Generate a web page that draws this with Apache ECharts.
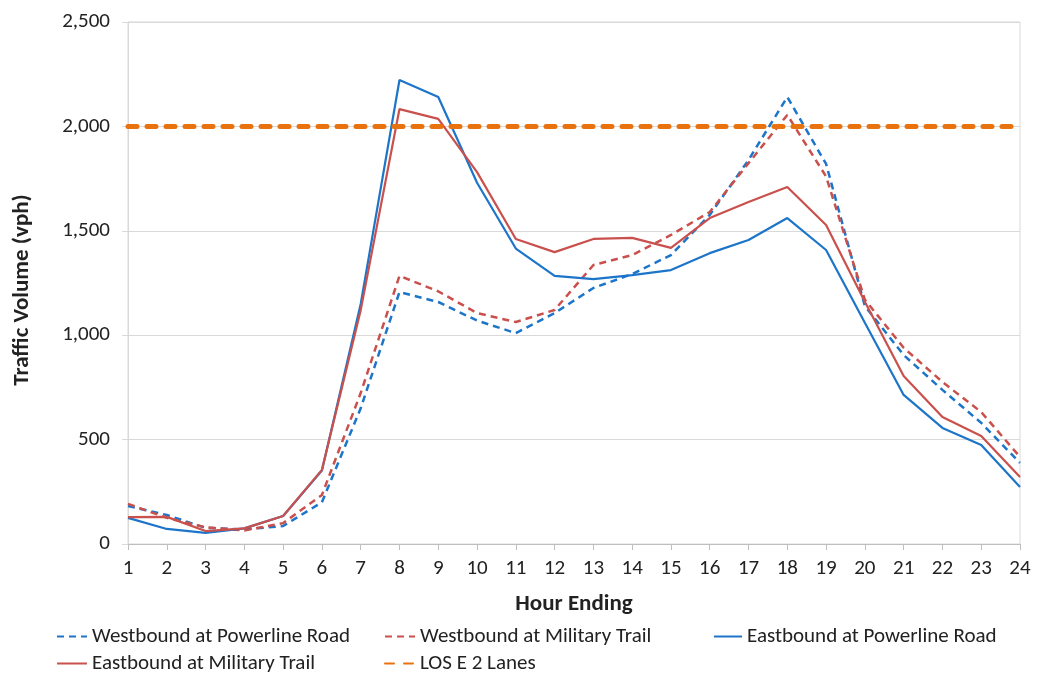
<!DOCTYPE html>
<html>
<head>
<meta charset="utf-8">
<script src="https://cdn.jsdelivr.net/npm/echarts@6/dist/echarts.min.js"></script>
<style>
html,body{margin:0;padding:0;background:#fff;}
#chart{width:1041px;height:673px;}
</style>
</head>
<body>
<div id="chart"></div>
<script>
const hours = ['1','2','3','4','5','6','7','8','9','10','11','12','13','14','15','16','17','18','19','20','21','22','23','24'];
const wbPowerline = [182, 139, 77, 70, 86, 200, 650, 1207, 1159, 1070, 1010, 1106, 1226, 1293, 1384, 1576, 1839, 2141, 1820, 1140, 905, 738, 580, 388];
const wbMilitary  = [192, 125, 80, 65, 100, 235, 723, 1284, 1210, 1106, 1063, 1121, 1336, 1384, 1480, 1590, 1824, 2055, 1760, 1170, 940, 776, 632, 417];
const ebPowerline = [125, 72, 53, 75, 134, 352, 1150, 2222, 2141, 1730, 1415, 1284, 1269, 1288, 1312, 1393, 1456, 1561, 1408, 1060, 714, 556, 474, 273];
const ebMilitary  = [129, 130, 62, 75, 134, 355, 1120, 2083, 2036, 1781, 1461, 1398, 1461, 1466, 1418, 1561, 1638, 1710, 1528, 1160, 805, 608, 517, 321];
const losE2Lanes  = [2000, 2000, 2000, 2000, 2000, 2000, 2000, 2000, 2000, 2000, 2000, 2000, 2000, 2000, 2000, 2000, 2000, 2000, 2000, 2000, 2000, 2000, 2000, 2000];
const seriesNames = ['Westbound at Powerline Road', 'Westbound at Military Trail', 'Eastbound at Powerline Road', 'Eastbound at Military Trail', 'LOS E 2 Lanes'];
const yTicks = {min: 0, max: 2500, interval: 500};

const FONT = 'Carlito, Lato, "Liberation Sans", sans-serif';
const BLUE = '#1C75C9';
const RED = '#C9504C';
const ORANGE = '#E8730E';
const TXT = '#222';

const chart = echarts.init(document.getElementById('chart'), null, {renderer: 'canvas'});

function legendAt(name, left, top, w) {
  return {
    data: [name], left: left, top: top, padding: 0, itemWidth: w || 30, itemHeight: 12,
    itemStyle: {color: 'rgba(0,0,0,0)', borderWidth: 0, opacity: 0},
    textStyle: {fontFamily: FONT, fontSize: 21, color: TXT}
  };
}

const option = {
  animation: false,
  backgroundColor: '#fff',
  grid: {left: 128, right: 21, top: 22, bottom: 129, show: true, borderColor: '#d9d9d9', borderWidth: 1},
  legend: [
    legendAt(seriesNames[0], 56, 626),
    legendAt(seriesNames[1], 384, 626),
    legendAt(seriesNames[2], 713, 626, 28),
    legendAt(seriesNames[3], 56, 653),
    legendAt(seriesNames[4], 384, 653)
  ],
  xAxis: {
    type: 'category', data: hours, boundaryGap: false,
    name: 'Hour Ending', nameLocation: 'middle', nameGap: 49,
    nameTextStyle: {fontFamily: FONT, fontSize: 23, fontWeight: 'bold', color: TXT},
    axisLine: {show: true, lineStyle: {color: '#bfbfbf', width: 1}},
    axisTick: {show: true, alignWithLabel: true, length: 6, lineStyle: {color: '#bfbfbf'}},
    axisLabel: {fontFamily: FONT, fontSize: 21, color: TXT, margin: 14, interval: 0},
    splitLine: {show: false}
  },
  yAxis: {
    type: 'value', min: yTicks.min, max: yTicks.max, interval: yTicks.interval,
    name: 'Traffic Volume (vph)', nameLocation: 'middle', nameGap: 94,
    nameTextStyle: {fontFamily: FONT, fontSize: 23, fontWeight: 'bold', color: TXT, padding: [0, 14, 0, 0]},
    axisLine: {show: true, lineStyle: {color: '#d9d9d9', width: 1}},
    axisTick: {show: true, length: 6, lineStyle: {color: '#d9d9d9'}},
    axisLabel: {fontFamily: FONT, fontSize: 21, color: TXT, margin: 18,
      formatter: v => v.toLocaleString('en-US')},
    splitLine: {show: true, lineStyle: {color: '#d9d9d9', width: 1}}
  },
  series: [
    {name: seriesNames[0], type: 'line', data: wbPowerline, symbol: 'none', color: BLUE,
     lineStyle: {color: BLUE, width: 2.5, type: [7, 5]}},
    {name: seriesNames[1], type: 'line', data: wbMilitary, symbol: 'none', color: RED,
     lineStyle: {color: RED, width: 2.5, type: [7, 5]}},
    {name: seriesNames[2], type: 'line', data: ebPowerline, symbol: 'none', color: BLUE,
     lineStyle: {color: BLUE, width: 2.2, type: 'solid'}},
    {name: seriesNames[3], type: 'line', data: ebMilitary, symbol: 'none', color: RED,
     lineStyle: {color: RED, width: 2.2, type: 'solid'}},
    {name: seriesNames[4], type: 'line', data: losE2Lanes, symbol: 'none', color: ORANGE,
     lineStyle: {color: ORANGE, width: 5, type: [9, 10], cap: 'round'}}
  ]
};
chart.setOption(option);
</script>
</body>
</html>
